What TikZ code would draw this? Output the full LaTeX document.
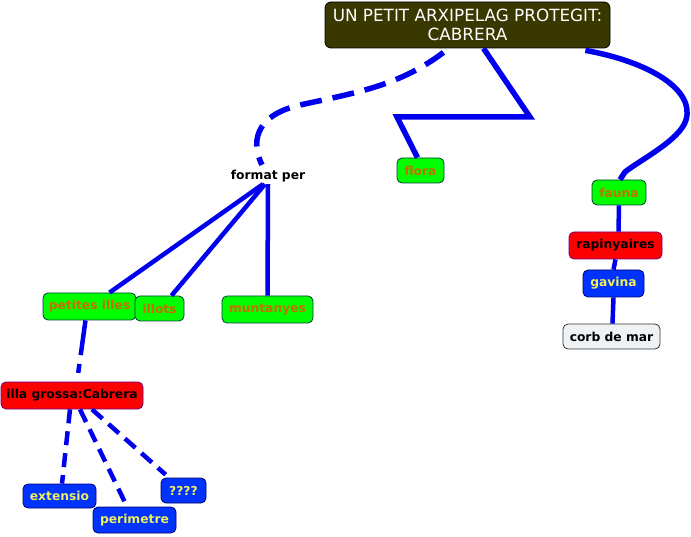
\documentclass[tikz,border=0pt]{standalone}
\usepackage{fontspec}
\setmainfont{DejaVu Sans}
\usetikzlibrary{calc}
\definecolor{linkblue}{RGB}{0,0,238}
\definecolor{titlefill}{RGB}{56,56,0}
\definecolor{greenfill}{RGB}{0,255,0}
\definecolor{greentext}{RGB}{200,110,0}
\definecolor{greenborder}{RGB}{0,60,60}
\definecolor{redfill}{RGB}{255,0,0}
\definecolor{redborder}{RGB}{110,0,130}
\definecolor{bluefill}{RGB}{0,51,255}
\definecolor{blueborder}{RGB}{0,0,110}
\definecolor{yellowtext}{RGB}{240,240,90}
\definecolor{greyfill}{RGB}{238,242,244}
\tikzset{
  box/.style={draw, rounded corners=5pt, line width=0.8pt, inner xsep=0pt, inner ysep=0pt,
    font=\bfseries\fontsize{12.3}{14}\selectfont},
  greenbox/.style={box, fill=greenfill, draw=greenborder, text=greentext},
  redbox/.style={box, fill=redfill, draw=redborder, text=black},
  bluebox/.style={box, fill=bluefill, draw=blueborder, text=yellowtext},
  greybox/.style={box, fill=greyfill, draw=black!80, text=black},
  titlebox/.style={draw=black, fill=titlefill, rounded corners=6pt, line width=0.8pt, text=white,
    align=center, font=\fontsize{16.8}{19.5}\selectfont, inner sep=0pt},
  biglink/.style={draw=linkblue, line width=5.5pt},
  link/.style={draw=linkblue, line width=4.5pt},
  dashlink/.style={link, dash pattern=on 14pt off 8pt},
}
\begin{document}
\begin{tikzpicture}[x=1pt,y=-1pt]
\useasboundingbox[fill=white] (0,0) rectangle (691,537);

% nodes
\node[titlebox, minimum width=285pt, minimum height=46pt] (title) at (467.5,25) {UN PETIT ARXIPELAG PROTEGIT:\\CABRERA};
\node[font=\bfseries\fontsize{12.3}{14}\selectfont, inner sep=0pt] (fp) at (268,176) {format per};
\node[greenbox, minimum width=47pt, minimum height=25pt] (flora) at (420.5,170.5) {flora};
\node[greenbox, minimum width=54pt, minimum height=25pt] (fauna) at (619,192.5) {fauna};
\node[redbox, minimum width=93pt, minimum height=27pt] (rap) at (615.5,245.5) {rapinyaires};
\node[bluebox, minimum width=61pt, minimum height=27pt] (gav) at (613.5,283.5) {gavina};
\node[greybox, minimum width=97pt, minimum height=25pt] (corb) at (611.5,336.5) {corb de mar};
\node[greenbox, minimum width=93pt, minimum height=27pt] (pi) at (89.5,306.5) {petites illes};
\node[greenbox, minimum width=49pt, minimum height=25pt] (il) at (159.5,308.5) {illots};
\node[greenbox, minimum width=91pt, minimum height=27pt] (mu) at (267.5,309.5) {muntanyes};
\node[redbox, minimum width=142pt, minimum height=27pt] (ig) at (72,395.5) {illa grossa:Cabrera};
\node[bluebox, minimum width=73pt, minimum height=24pt] (ex) at (59.5,496) {extensio};
\node[bluebox, minimum width=83pt, minimum height=26pt] (pe) at (134.5,520) {perimetre};
\node[bluebox, minimum width=45pt, minimum height=25pt] (qq) at (183.5,490.5) {????};

% top-level links
\draw[biglink, dash pattern=on 22pt off 11pt] ($(title.south)+(-24,4)$)
  .. controls (400,85) and (360,92) .. (300,105)
  .. controls (252,116) and (252,145) .. ($(fp.north)+(-6,-5)$);
\draw[biglink, line join=miter] ($(title.south)+(16,0)$) -- (530,117) -- (397,117) -- ($(flora.north)+(-3,0)$);
\draw[biglink] ($(title.south east)+(-25,2)$)
  .. controls (650,62) and (695,90) .. (686,120)
  .. controls (680,140) and (640,160) .. (625,172) -- ($(fauna.north)+(1,0)$);

% format per links
\draw[link] ($(fp.south)+(-5,2)$) -- ($(pi.north)+(20,0)$);
\draw[link] ($(fp.south)+(-3,2)$) -- ($(il.north)+(12,0)$);
\draw[link] ($(fp.south)+(0,2)$) -- (mu.north);

% petites illes -> illa grossa
\draw[link, dash pattern=on 35pt off 9pt on 9pt off 20pt] ($(pi.south)+(-4,0)$) -- ($(ig.north)+(5,0)$);

% illa grossa children
\draw[dashlink] ($(ig.south)+(-2,0)$) -- ($(ex.north)+(2.5,0)$);
\draw[dashlink] ($(ig.south)+(8,0)$) -- ($(pe.north)+(-7.5,0)$);
\draw[dashlink] ($(ig.south)+(20,0)$) -- ($(qq.north west)+(5,-3)$);

% fauna chain
\draw[link] (fauna.south) -- ($(rap.north)+(3,0)$);
\draw[link] (rap.south) -- (gav.north);
\draw[link] (gav.south) -- ($(corb.north)+(1,0)$);
\end{tikzpicture}
\end{document}
